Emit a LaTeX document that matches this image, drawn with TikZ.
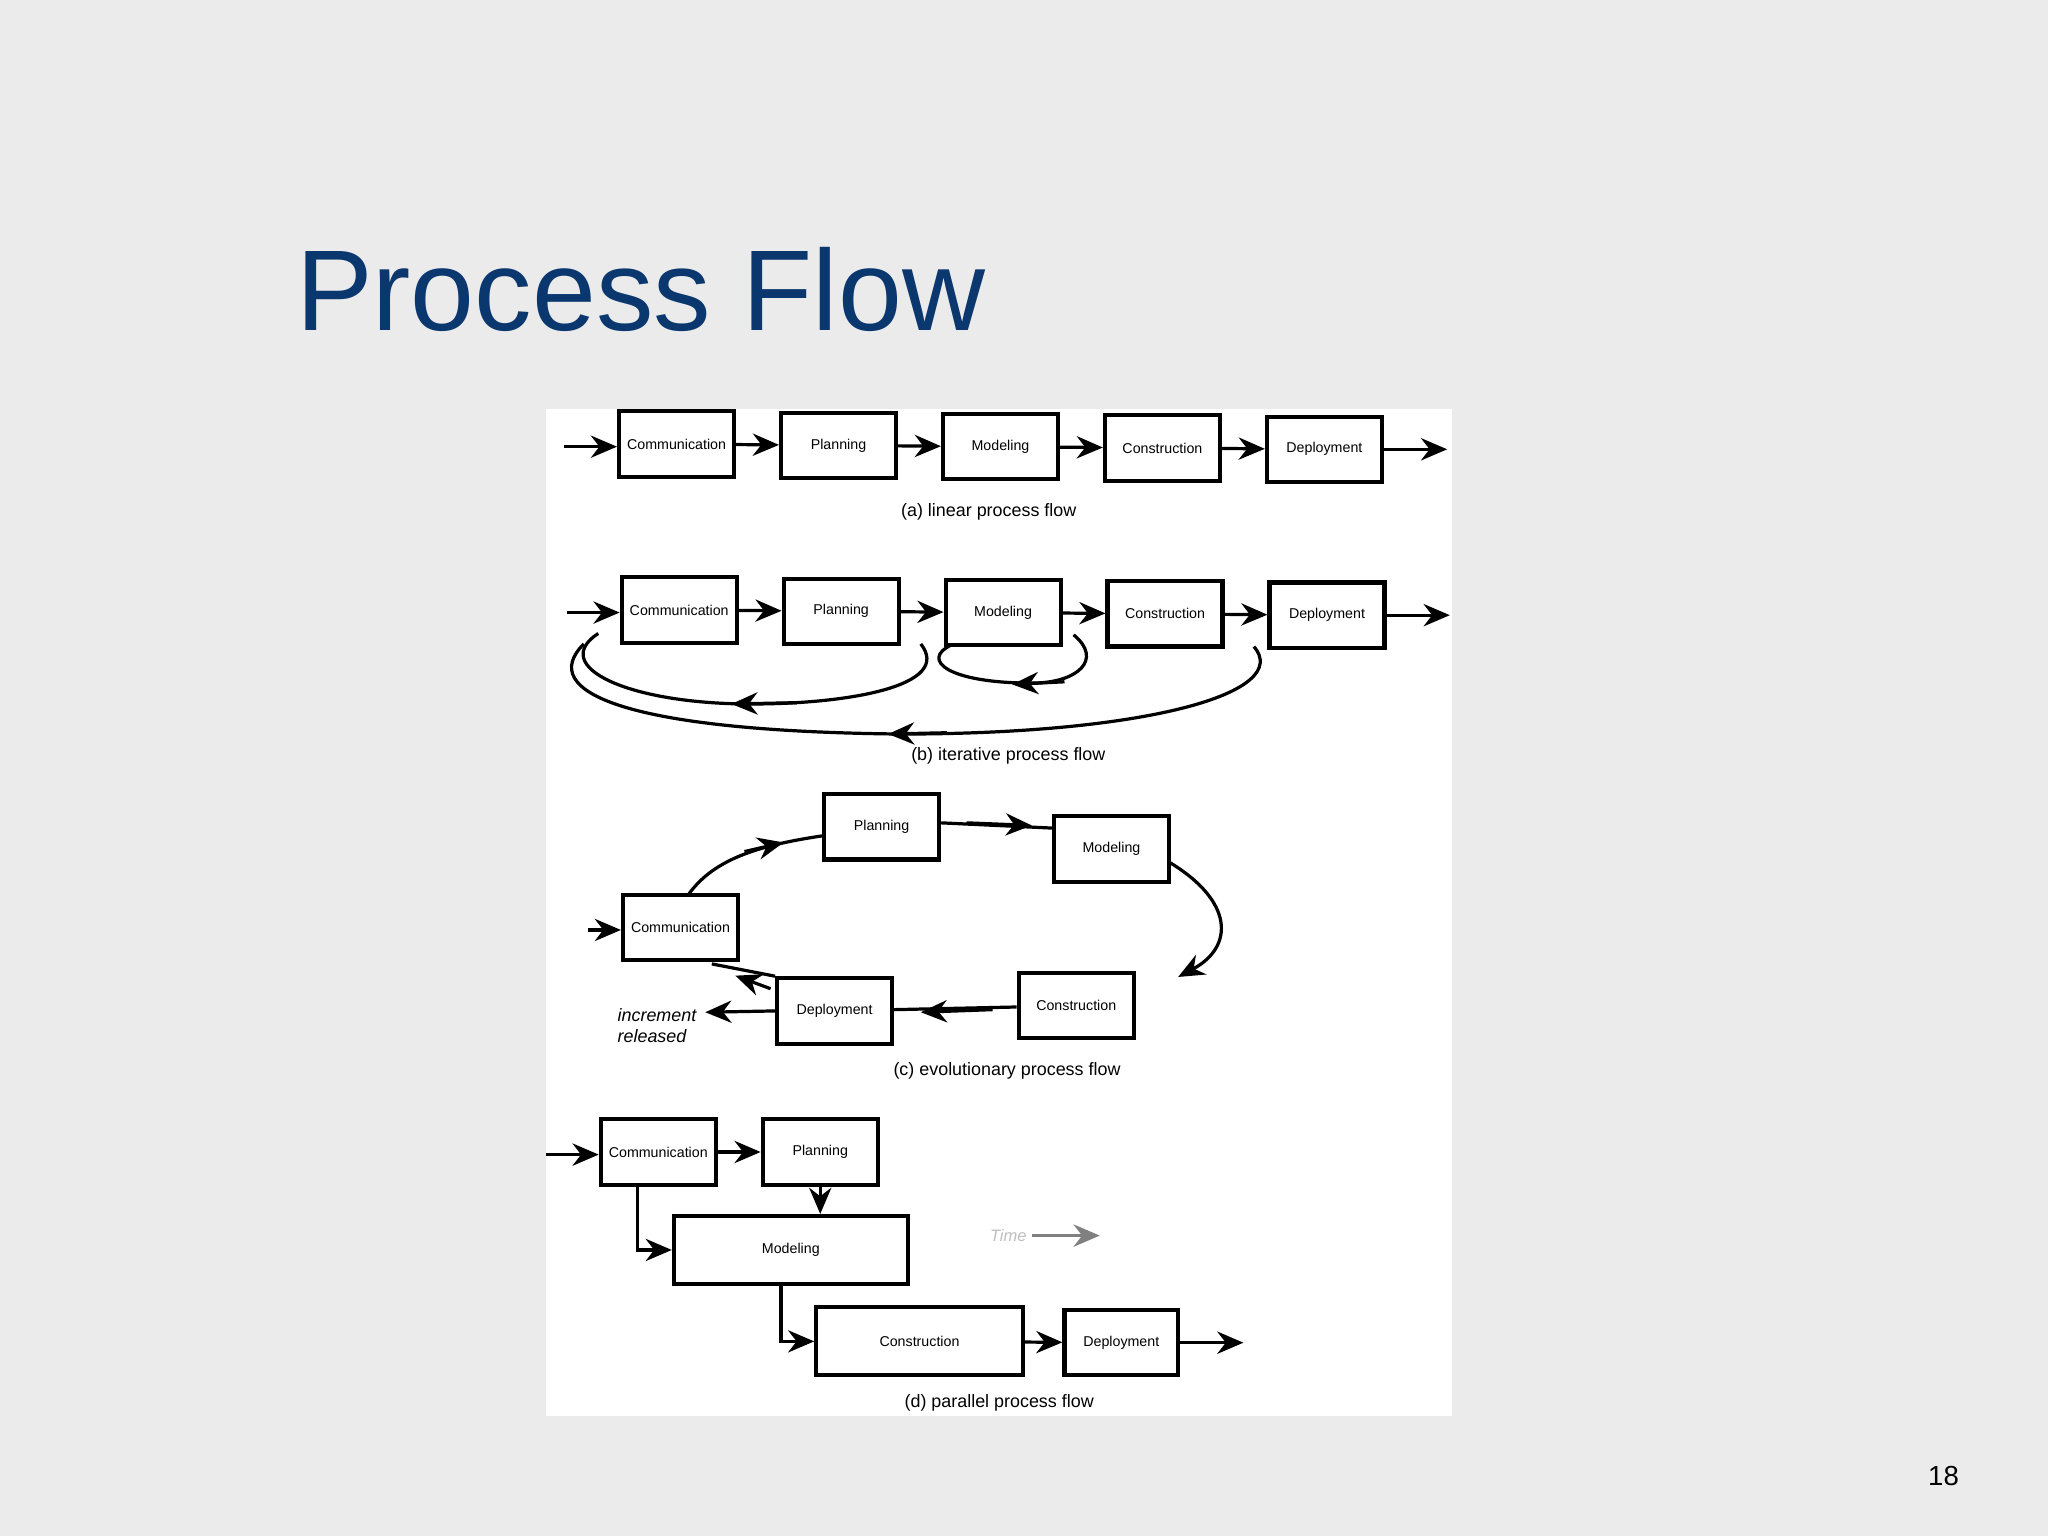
\documentclass[tikz,border=0pt]{standalone}
\usepackage{fontspec}
\setmainfont{Liberation Sans}
\usetikzlibrary{arrows.meta}
\begin{document}
\begin{tikzpicture}[x=0.01cm,y=-0.01cm,
 box/.style={draw,line width=0.9pt,minimum height=0.5cm,inner sep=0pt,font=\fontsize{3.1}{4}\selectfont},
 ar/.style={line width=0.7pt,-{Stealth[length=0.2cm,width=0.17cm]}},
 ln/.style={line width=0.7pt},
 capt/.style={font=\fontsize{3.9}{5}\selectfont}]
\fill[fill={rgb,255:red,235;green,235;blue,236}] (0,0) rectangle (1568,1176);
\useasboundingbox (0,0) rectangle (1568,1176);
\fill[white] (418,313) rectangle (1112,1084);
\node[anchor=west,inner sep=0pt,text={rgb,255:red,10;green,55;blue,110},font=\fontsize{25}{28}\selectfont] (title) at (226,222) {Process Flow};
\node[font=\fontsize{6}{7}\selectfont] (pg) at (1488,1130) {18};
% (a)
\node[box,minimum width=0.88cm] (a1) at (518,340) {Communication};
\node[box,minimum width=0.88cm] (a2) at (642,341) {Planning};
\node[box,minimum width=0.88cm] (a3) at (766,342) {Modeling};
\node[box,minimum width=0.88cm] (a4) at (890,343) {Construction};
\node[box,minimum width=0.88cm] (a5) at (1014,344) {Deployment};
\coordinate (ai) at (432,342); \coordinate (ao) at (1108,344);
\draw[ar] (ai) -- (a1.west|-ai);
\draw[ar] (a1) -- (a2); \draw[ar] (a2) -- (a3); \draw[ar] (a3) -- (a4); \draw[ar] (a4) -- (a5);
\draw[ar] (a5) -- (ao);
\node[capt] (ca) at (757,392) {(a) linear process flow};
% (b)
\node[box,minimum width=0.88cm] (b1) at (520,467) {Communication};
\node[box,minimum width=0.88cm] (b2) at (644,468) {Planning};
\node[box,minimum width=0.88cm] (b3) at (768,469) {Modeling};
\node[box,minimum width=0.88cm] (b4) at (892,470) {Construction};
\node[box,minimum width=0.88cm] (b5) at (1016,471) {Deployment};
\coordinate (bi) at (434,469); \coordinate (bo) at (1110,471);
\draw[ar] (bi) -- (b1.west|-bi);
\draw[ar] (b1) -- (b2); \draw[ar] (b2) -- (b3); \draw[ar] (b3) -- (b4); \draw[ar] (b4) -- (b5);
\draw[ar] (b5) -- (bo);
\coordinate (l1s) at (705,493); \coordinate (l1m) at (575,539); \coordinate (l1e) at (458,485);
\draw[ln] (l1s) .. controls (730,525) and (650,539) .. (l1m) .. controls (480,539) and (420,510) .. (l1e);
\draw[ar] (610,538) -- (560,539);
\coordinate (l2s) at (822,486); \coordinate (l2m) at (790,523); \coordinate (l2e) at (728,494);
\draw[ln] (l2s) .. controls (845,505) and (825,523) .. (l2m) .. controls (725,523) and (705,505) .. (l2e);
\draw[ar] (815,522) -- (775,524);
\coordinate (l3s) at (960,495); \coordinate (l3m) at (690,562); \coordinate (l3e) at (447,493);
\draw[ln] (l3s) .. controls (990,530) and (880,562) .. (l3m) .. controls (480,560) and (410,530) .. (l3e);
\draw[ar] (725,561) -- (680,562);
\node[capt] (cb) at (772,579) {(b) iterative process flow};
% (c)
\node[box,minimum width=0.88cm] (c2) at (675,633) {Planning};
\node[box,minimum width=0.88cm] (c3) at (851,650) {Modeling};
\node[box,minimum width=0.88cm] (c1) at (521,710) {Communication};
\node[box,minimum width=0.88cm] (c4) at (824,770) {Construction};
\node[box,minimum width=0.88cm] (c5) at (639,774) {Deployment};
\coordinate (ci) at (450,712);
\draw[ar] (ci) -- (c1.west|-ci);
\draw[ln] (527,685) .. controls (545,660) and (575,648) .. (c2.west|-640,640);
\draw[ar] (570,652) -- (600,645);
\draw[ln] (c2.east|-630,630) -- (c3.west|-634,634);
\draw[ar] (740,630) -- (790,632);
\draw[ar] (895,660) .. controls (945,690) and (945,725) .. (902,748);
\draw[ln] (c4) -- (c5);
\draw[ar] (760,773) -- (705,775);
\draw[ln] (c5.north west) -- (545,738);
\draw[ar] (590,757) -- (563,747);
\node[align=left,font=\itshape\fontsize{3.9}{4.6}\selectfont] (rel) at (503,785) {increment\\released};
\draw[ar] (c5.west) -- (540,775);
\node[capt] (cc) at (771,820) {(c) evolutionary process flow};
% (d)
\node[box,minimum width=0.88cm] (d1) at (504,882) {Communication};
\node[box,minimum width=0.88cm] (d2) at (628,882) {Planning};
\node[box,minimum width=1.79cm,minimum height=0.52cm] (d3) at (605.5,957) {Modeling};
\node[box,minimum width=1.58cm,minimum height=0.52cm] (d4) at (704,1027) {Construction};
\node[box,minimum width=0.87cm] (d5) at (858.5,1028) {Deployment};
\coordinate (di) at (418,884); \coordinate (dout) at (952,1028);
\draw[ar] (di) -- (d1.west|-di);
\draw[ar] (d1) -- (d2);
\draw[ar] (d2) -- (d3.north-|d2);
\draw[ar] (488,908) |- (d3.west);
\draw[ar] (598,983) |- (d4.west);
\draw[ar] (d4) -- (d5);
\draw[ar] (d5) -- (dout);
\node[text=gray!50,font=\itshape\fontsize{3.6}{5}\selectfont,inner sep=1pt] (time) at (772,946) {Time};
\coordinate (te) at (842,946);
\draw[ar,gray] (time) -- (te);
\node[capt] (cd) at (765,1074) {(d) parallel process flow};
\end{tikzpicture}
\end{document}
